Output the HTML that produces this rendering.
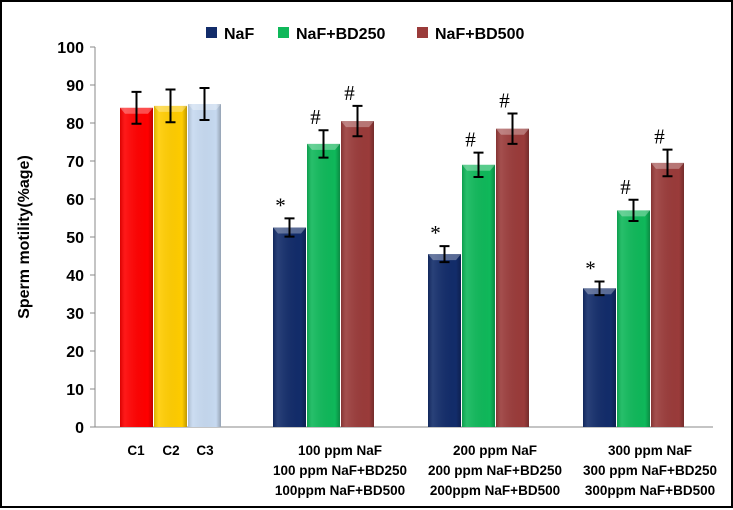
<!DOCTYPE html>
<html><head><meta charset="utf-8"><style>
html,body{margin:0;padding:0;background:#fff;}
svg{display:block;font-family:"Liberation Sans",sans-serif;}
</style></head><body>
<svg id="chart" width="733" height="510">
<defs>
<linearGradient id="gshade" x1="0" x2="1" y1="0" y2="0">
<stop offset="0" stop-color="#000" stop-opacity="0.15"/>
<stop offset="0.15" stop-color="#fff" stop-opacity="0.1"/>
<stop offset="0.85" stop-color="#000" stop-opacity="0"/>
<stop offset="1" stop-color="#000" stop-opacity="0.25"/>
</linearGradient>
</defs>
<rect x="1" y="1" width="731" height="506" fill="#fff" stroke="#000" stroke-width="2"/>
<g id="legend">
<g><rect x="206" y="27" width="11" height="11" fill="#122c6a"/><text x="224" y="39" font-size="16" font-weight="bold">NaF</text></g>
<g><rect x="278" y="27" width="11" height="11" fill="#0fb85a"/><text x="296" y="39" font-size="16" font-weight="bold">NaF+BD250</text></g>
<g><rect x="417" y="27" width="11" height="11" fill="#9a3b3a"/><text x="435" y="39" font-size="16" font-weight="bold">NaF+BD500</text></g>
</g>
<text transform="translate(29,237) rotate(-90)" text-anchor="middle" font-size="16" font-weight="bold">Sperm motility(%age)</text>
<g id="axes"></g>
<g id="bars"></g>
</svg>
<script>
const yTicks=[0,10,20,30,40,50,60,70,80,90,100];
const barLabels=["C1","C2","C3","NaF100","BD250-100","BD500-100","NaF200","BD250-200","BD500-200","NaF300","BD250-300","BD500-300"];
const barValues=[84,84.5,85,52.5,74.5,80.5,45.5,69,78.5,36.5,57,69.5];
const barErrors=[4.2,4.3,4.2,2.4,3.6,4,2.1,3.2,4,1.8,2.8,3.5];
const barMarks=["","","","*","#","#","*","#","#","*","#","#"];
const groupLabels=[["C1"],["C2"],["C3"],["100 ppm NaF","100 ppm NaF+BD250","100ppm NaF+BD500"],["200 ppm NaF","200 ppm NaF+BD250","200ppm NaF+BD500"],["300 ppm NaF","300 ppm NaF+BD250","300ppm NaF+BD500"]];
const colors=["#ff0000","#ffcc00","#c6d9f0","#122c6a","#0fb85a","#9a3b3a","#122c6a","#0fb85a","#9a3b3a","#122c6a","#0fb85a","#9a3b3a"];
const slotX=[120,154,188,273,307,341,428,462,496,583,617,651];
const NS="http://www.w3.org/2000/svg";
const y=v=>427-v*3.8;
function mk(t,a,p){const e=document.createElementNS(NS,t);for(const k in a)e.setAttribute(k,a[k]);p.appendChild(e);return e;}
const ax=document.getElementById('axes'),bg=document.getElementById('bars');
mk('line',{x1:95,x2:713,y1:427,y2:427,stroke:'#888','stroke-width':1},ax);
mk('line',{x1:95,x2:95,y1:47,y2:427,stroke:'#888','stroke-width':1},ax);
yTicks.forEach(v=>{
 mk('line',{x1:90,x2:95,y1:y(v),y2:y(v),stroke:'#888'},ax);
 const t=mk('text',{x:84,y:y(v)+6,'text-anchor':'end','font-size':16,'font-weight':'bold'},ax);
 
 
 t.textContent=v;
});
barValues.forEach((v,i)=>{
 const x=slotX[i],w=33;
 const r=mk('rect',{x:x,y:y(v),width:w,height:y(0)-y(v),fill:colors[i]},bg);
 
 
 mk('rect',{x:x,y:y(v),width:w,height:y(0)-y(v),fill:'url(#gshade)'},bg);
 mk('polygon',{points:`${x},${y(v)} ${x+w},${y(v)} ${x+w-5},${y(v)+6} ${x+5},${y(v)+6}`,fill:'#fff','fill-opacity':0.3},bg);
 const cx=x+w/2,e=barErrors[i];
 const eb=mk('path',{d:`M${cx-5},${y(v+e)}H${cx+5}M${cx},${y(v+e)}V${y(v-e)}M${cx-5},${y(v-e)}H${cx+5}`,stroke:'#000','stroke-width':2,fill:'none'},bg);
 
 
 if(barMarks[i]){
  const t=mk('text',{x:cx-(barMarks[i]=='*'?9:8),y:y(v+e)-6,'text-anchor':'middle','font-size':21,'font-family':'Liberation Serif,serif'},bg);
  
  
  t.textContent=barMarks[i];
 }
});
const gCenters=[136,171,205,340,495,650];
groupLabels.forEach((ls,g)=>{
 ls.forEach((s,j)=>{
  const t=mk('text',{x:gCenters[g],y:455+j*20,'text-anchor':'middle','font-size':13.5,'font-weight':'bold'},ax);
  
  
  t.textContent=s;
 });
});
</script>
</body></html>
